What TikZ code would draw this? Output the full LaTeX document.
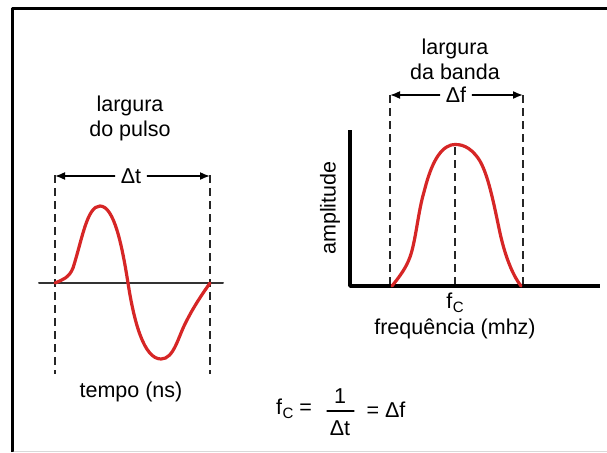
\documentclass[tikz,border=0pt]{standalone}
\usepackage{fontspec}
\setmainfont{Liberation Sans}
\usetikzlibrary{arrows.meta,positioning}
\definecolor{pulseRed}{RGB}{214,38,38}
\tikzset{
  dashline/.style={black!85, line width=2pt, line cap=butt, dash pattern=on 8pt off 5pt},
  pulse/.style={pulseRed, line width=3.2pt, line cap=round, line join=round},
  dimarrow/.style={-{Latex[length=10pt,width=8pt]}, line width=1.6pt},
  lbl/.style={font=\fontsize{21.5}{25}\selectfont, align=center, inner sep=2pt}
}
\newcommand{\fsubc}{f\kern0.5pt\raisebox{-4.5pt}{\fontsize{15}{15}\selectfont C}}

\begin{document}
\begin{tikzpicture}[x=1pt, y=-1pt, line cap=round, line join=round]
    \useasboundingbox (0,0) rectangle (607,452);
    % frame
    \draw[black, line width=3.5pt, line cap=butt] (12.5,452) -- (12.5,8.5) -- (607,8.5);
    \draw[black!15, line width=1pt] (14,451) -- (607,451);

    % pulse in time
    \node[lbl] (tlabel) at (130,118) {largura\\do pulso};
    \draw[dashline] (55,175) -- (55,374);
    \draw[dashline] (210,175) -- (210,374);
    \node[lbl, inner sep=6pt] (dt) at (131,176) {Δt};
    \coordinate (dtl) at (55,176);
    \coordinate (dtr) at (210,176);
    \draw[dimarrow] (dt.west) -- (dtl);
    \draw[dimarrow] (dt.east) -- (dtr);
    \draw[black!80, line width=2pt] (39,283) -- (223,283);
    \draw[pulse] (55,283) .. controls (62,280) and (69,278) .. (73,268)
        .. controls (82,240) and (87,206) .. (100,206)
        .. controls (114,206) and (122,245) .. (128,283)
        .. controls (134,322) and (144,359) .. (161,359)
        .. controls (174,359) and (178,337) .. (186,322)
        .. controls (194,306) and (203,293) .. (210,283);
    \node[lbl] (tempo) at (131,392) {tempo (ns)};

    % spectrum
    \node[lbl] (flabel) at (455,59) {largura\\da banda};
    \draw[dashline] (390,95) -- (390,286);
    \draw[dashline] (523,95) -- (523,286);
    \draw[dashline] (455,147) -- (455,286);
    \node[lbl, inner sep=6pt] (df) at (456,95) {Δf};
    \coordinate (dfl) at (390,95);
    \coordinate (dfr) at (523,95);
    \draw[dimarrow] (df.west) -- (dfl);
    \draw[dimarrow] (df.east) -- (dfr);
    \draw[black, line width=3.5pt, line cap=butt] (350,130) -- (350,286) -- (600,286);
    \draw[pulse] (392,286) .. controls (400,276) and (406,268) .. (410,257)
        .. controls (416,240) and (418,212) .. (424,192)
        .. controls (430,168) and (438,149) .. (451,145)
        .. controls (461,143) and (470,147) .. (478,158)
        .. controls (488,172) and (494,205) .. (500,233)
        .. controls (506,260) and (514,277) .. (521,286);
    \node[lbl, rotate=90] (amp) at (330,208) {amplitude};
    \node[lbl] (fc) at (455,303) {\fsubc};
    \node[lbl] (freq) at (455,329) {frequência (mhz)};

    % relation
    \node[lbl] (fceq) at (294,409) {\fsubc\kern6pt=};
    \node[lbl] (num) at (340,396) {1};
    \node[lbl] (den) at (340,428) {Δt};
    \draw[black, line width=1.3pt] (327,411) -- (354,411);
    \node[lbl] (eqdf) at (386,410) {= Δf};
\end{tikzpicture}
\end{document}
